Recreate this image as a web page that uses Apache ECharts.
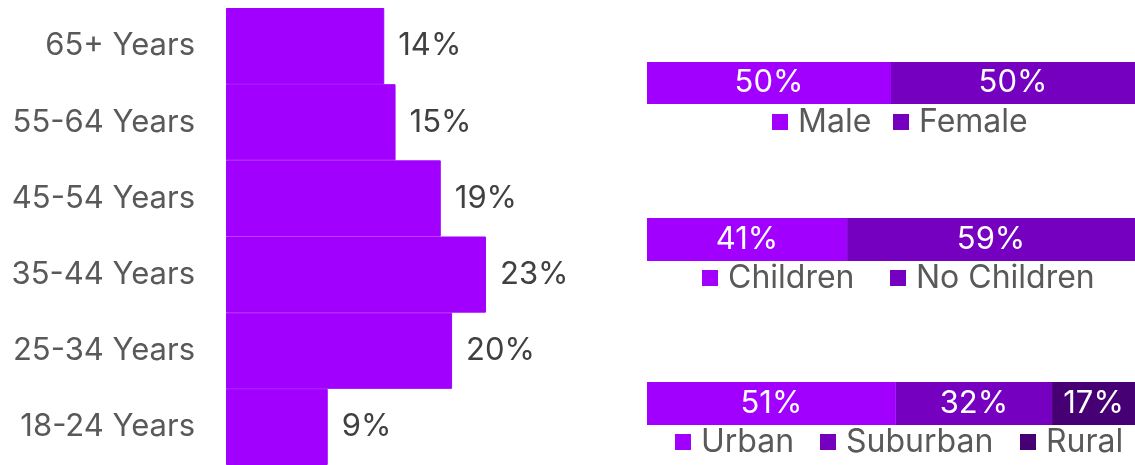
<!DOCTYPE html>
<html>
<head>
<meta charset="utf-8">
<script src="https://cdn.jsdelivr.net/npm/echarts@6/dist/echarts.min.js"></script>
<style>
  html, body { margin: 0; padding: 0; background: #ffffff; }
  #chart { width: 1135px; height: 465px; }
</style>
</head>
<body>
<div id="chart"></div>
<script>
// Age distribution (bottom to top on the category axis)
const ageCategories = ['18-24 Years', '25-34 Years', '35-44 Years', '45-54 Years', '55-64 Years', '65+ Years'];
const ageValues = [9, 20, 23, 19, 15, 14];

// Gender split
const genderNames = ['Male', 'Female'];
const genderValues = [50, 50];

// Household split
const childNames = ['Children', 'No Children'];
const childValues = [41, 59];

// Area split
const areaNames = ['Urban', 'Suburban', 'Rural'];
const areaValues = [51, 32, 17];

const palette = ['#A100FF', '#7500C0', '#460073'];
const FONT = 'Inter';

const chart = echarts.init(document.getElementById('chart'), null, { renderer: 'canvas' });

// Layout of the three stacked split bars on the right, with legend key positions
const splitGrids = [
  { top: 62, height: 42, legendTop: 106, keyLeft: [772, 893] },
  { top: 218, height: 43, legendTop: 262, keyLeft: [702, 890] },
  { top: 382, height: 43, legendTop: 426, keyLeft: [675, 820, 1020] }
];
const splitSets = [
  { names: genderNames, values: genderValues },
  { names: childNames, values: childValues },
  { names: areaNames, values: areaValues }
];

const grids = [{ left: 226, top: 8, width: 282.6, height: 457 }];
const xAxes = [{
  gridIndex: 0, type: 'value', min: 0, max: 25,
  show: false
}];
const yAxes = [{
  gridIndex: 0, type: 'category', data: ageCategories,
  axisLine: { show: true, lineStyle: { color: '#d9d9d9', width: 1 } },
  axisTick: { show: false },
  axisLabel: { color: '#595959', fontFamily: FONT, fontSize: 31, margin: 31 },
  splitLine: { show: false }
}];
const series = [{
  type: 'bar', xAxisIndex: 0, yAxisIndex: 0,
  data: ageValues,
  barWidth: '100%',
  itemStyle: { color: palette[0], borderColor: palette[0], borderWidth: 1 },
  label: {
    show: true, position: 'right', distance: 14,
    formatter: p => p.value + '%',
    color: '#404040', fontFamily: FONT, fontSize: 31
  },
  z: 3,
  silent: true
}];
const legends = [];

splitSets.forEach((set, gi) => {
  const g = splitGrids[gi];
  const idx = gi + 1;
  grids.push({ left: 647, right: 0, top: g.top, height: g.height });
  xAxes.push({ gridIndex: idx, type: 'value', min: 0, max: 100, show: false });
  yAxes.push({ gridIndex: idx, type: 'category', data: [''], show: false });
  set.names.forEach((name, si) => {
    series.push({
      name: name,
      type: 'bar', stack: 'split' + gi,
      xAxisIndex: idx, yAxisIndex: idx,
      data: [set.values[si]],
      barWidth: '100%',
      itemStyle: { color: palette[si] },
      label: {
        show: true, position: 'inside',
        formatter: p => p.value + '%',
        color: '#ffffff', fontFamily: FONT, fontSize: 31
      },
      silent: true
    });
    // one legend key per segment
    legends.push({
      data: [name],
      left: g.keyLeft[si], top: g.legendTop,
      padding: 0,
      itemWidth: 16, itemHeight: 16,
      icon: 'rect',
      selectedMode: false,
      textStyle: { color: '#595959', fontFamily: FONT, fontSize: 32, lineHeight: 32, padding: [0, 0, 0, 5] }
    });
  });
});

chart.setOption({
  animation: false,
  backgroundColor: '#ffffff',
  grid: grids,
  xAxis: xAxes,
  yAxis: yAxes,
  legend: legends,
  series: series
});
</script>
</body>
</html>
